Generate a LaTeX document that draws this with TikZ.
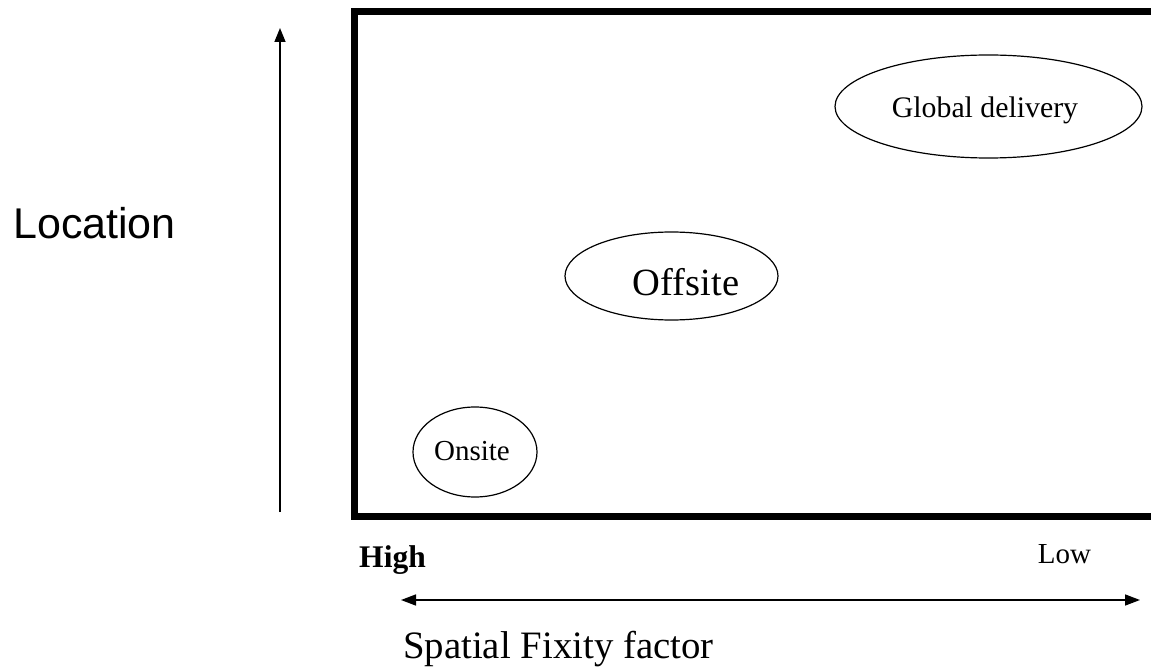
\documentclass[tikz,border=0pt]{standalone}
\usepackage{fontspec}
\setmainfont{Liberation Serif}
\newfontfamily\locsans{Liberation Sans}
\usetikzlibrary{shapes.geometric,arrows.meta}
\tikzset{
  oval/.style={draw, ellipse, line width=1.2pt, inner sep=0pt},
  lbl/.style={inner sep=0pt, anchor=base},
  axis/.style={line width=1.5pt},
}
\begin{document}
\begin{tikzpicture}[x=1pt,y=-1pt]
\clip (0,0) rectangle (1151,668);
\fill[white] (0,0) rectangle (1151,668);
% frame (right side runs off the picture)
\draw[line width=7pt] (1170,11.5) -- (354.5,11.5) -- (354.5,516.5) -- (1170,516.5);
% ellipses
\node[oval, minimum width=124pt, minimum height=90pt] (onsite) at (475,452) {};
\node[oval, minimum width=213pt, minimum height=88pt] (offsite) at (671.5,276) {};
\node[oval, minimum width=307pt, minimum height=103pt] (global) at (988.5,106.5) {};
\node[lbl] (onsitet) at (472,460) {\fontsize{29}{30}\selectfont Onsite};
\node[lbl] (offsitet) at (686,295) {\fontsize{38.5}{40}\selectfont Offsite};
\node[lbl] (globalt) at (985,118) {\fontsize{29.8}{31}\selectfont Global delivery};
% vertical axis
\coordinate (vbot) at (280,512);
\coordinate (vtop) at (280,28);
\draw[axis, -{Triangle[width=11pt,length=14pt]}] (vbot) -- (vtop);
\node[lbl, anchor=base west] (loc) at (13,239) {\locsans\fontsize{43}{45}\selectfont Location};
% horizontal axis
\coordinate (hleft) at (401,600);
\coordinate (hright) at (1140,600);
\draw[axis, {Triangle[width=11pt,length=15pt]}-{Triangle[width=11pt,length=15pt]}] (hleft) -- (hright);
\node[lbl] (high) at (392.5,567) {\fontsize{31.5}{33}\selectfont\bfseries High};
\node[lbl] (low) at (1064.5,563) {\fontsize{29}{30}\selectfont Low};
\node[lbl, anchor=base west] (sff) at (403,658) {\fontsize{38.8}{40}\selectfont Spatial Fixity factor};
\end{tikzpicture}
\end{document}
